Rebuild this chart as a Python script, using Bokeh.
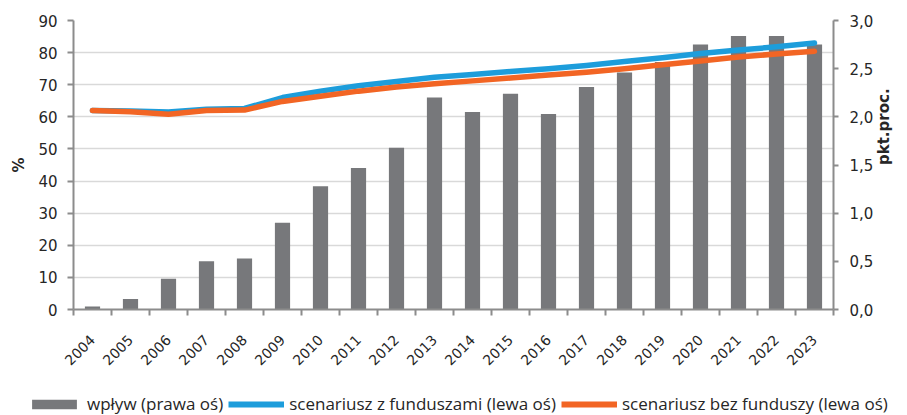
import math
from bokeh.plotting import figure
from bokeh.layouts import column
from bokeh.models import Range1d, LinearAxis, FixedTicker, Legend, LegendItem, ColumnDataSource
from bokeh.embed import file_html
from bokeh.resources import INLINE

years = ["2004", "2005", "2006", "2007", "2008", "2009", "2010", "2011", "2012", "2013",
         "2014", "2015", "2016", "2017", "2018", "2019", "2020", "2021", "2022", "2023"]
impact = [0.03, 0.11, 0.32, 0.50, 0.53, 0.90, 1.28, 1.47, 1.68, 2.20,
          2.05, 2.24, 2.03, 2.31, 2.46, 2.57, 2.75, 2.84, 2.84, 2.75]
with_funds = [62.0, 61.8, 61.5, 62.4, 62.6, 66.0, 68.0, 69.7, 71.0, 72.3,
              73.2, 74.1, 75.0, 76.0, 77.2, 78.4, 79.7, 80.8, 81.8, 83.0]
without_funds = [62.0, 61.6, 60.8, 62.0, 62.1, 64.8, 66.4, 68.0, 69.3, 70.3,
                 71.2, 72.1, 73.0, 73.9, 75.0, 76.2, 77.4, 78.6, 79.6, 80.4]
left_ticks = [0, 10, 20, 30, 40, 50, 60, 70, 80, 90]
right_ticks = [0.0, 0.5, 1.0, 1.5, 2.0, 2.5, 3.0]
right_labels = ["0,0", "0,5", "1,0", "1,5", "2,0", "2,5", "3,0"]
series_names = ["wpływ (prawa oś)", "scenariusz z funduszami (lewa oś)", "scenariusz bez funduszy (lewa oś)"]

xpos = [i + 0.5 for i in range(len(years))]
src = ColumnDataSource(dict(x=xpos, impact=impact, wf=with_funds, wo=without_funds))

GREY = "#77787b"
BLUE = "#1d9ddb"
ORANGE = "#f26524"
AXIS = "#8c8c8c"
TXT = "#262626"
FONT = "DejaVu Sans"

p = figure(width=907, height=385, x_range=Range1d(0, len(years)), y_range=Range1d(0, 90),
           output_backend="svg", toolbar_location=None,
           min_border_left=73, min_border_right=74, min_border_top=20, min_border_bottom=76)
p.extra_y_ranges = {"right": Range1d(0, 3)}
p.outline_line_color = None
p.background_fill_color = "white"
p.frame_align = False

bars = p.vbar(x="x", top="impact", width=0.4, y_range_name="right", source=src,
              fill_color=GREY, line_color=None)
l1 = p.line(x="x", y="wf", source=src, line_color=BLUE, line_width=5.5, line_join="round", line_cap="round")
l2 = p.line(x="x", y="wo", source=src, line_color=ORANGE, line_width=5.5, line_join="round", line_cap="round")

# grid
p.xgrid.grid_line_color = None
p.ygrid.ticker = FixedTicker(ticks=left_ticks)
p.ygrid.grid_line_color = "#d9d9d9"
p.ygrid.grid_line_width = 1.5

# left axis
ya = p.yaxis[0]
ya.ticker = FixedTicker(ticks=left_ticks)
ya.axis_line_color = AXIS
ya.axis_line_width = 2
ya.major_tick_line_color = AXIS
ya.major_tick_line_width = 2
ya.major_tick_out = 6
ya.major_tick_in = 0
ya.minor_tick_line_color = None
ya.major_label_standoff = 10
ya.major_label_text_font = FONT
ya.major_label_text_font_size = "15px"
ya.major_label_text_color = TXT
ya.axis_label = "%"
ya.axis_label_text_font = FONT
ya.axis_label_text_font_size = "15px"
ya.axis_label_text_font_style = "bold"
ya.axis_label_text_color = TXT
ya.axis_label_standoff = 7

# right axis
ra = LinearAxis(y_range_name="right", ticker=FixedTicker(ticks=right_ticks),
                major_label_overrides={t: s for t, s in zip(right_ticks, right_labels)})
ra.axis_line_color = AXIS
ra.axis_line_width = 2
ra.major_tick_line_color = AXIS
ra.major_tick_line_width = 2
ra.major_tick_out = 5
ra.major_tick_in = 0
ra.minor_tick_line_color = None
ra.major_label_standoff = 11
ra.major_label_text_font = FONT
ra.major_label_text_font_size = "15px"
ra.major_label_text_color = TXT
ra.axis_label = "pkt.proc."
ra.axis_label_text_font = FONT
ra.axis_label_text_font_size = "15px"
ra.axis_label_text_font_style = "bold"
ra.axis_label_text_color = TXT
ra.axis_label_standoff = 8
ra.axis_label_orientation = math.pi / 2
p.add_layout(ra, "right")

# x axis
xa = p.xaxis[0]
xa.ticker = FixedTicker(ticks=xpos, minor_ticks=list(range(len(years) + 1)))
xa.major_label_overrides = {x: y for x, y in zip(xpos, years)}
xa.major_label_orientation = math.pi / 4
xa.axis_line_color = AXIS
xa.axis_line_width = 2
xa.major_tick_line_color = None
xa.minor_tick_line_color = AXIS
xa.minor_tick_line_width = 2
xa.minor_tick_out = 6
xa.minor_tick_in = 0
xa.major_label_standoff = 22
xa.major_label_text_font = FONT
xa.major_label_text_font_size = "14px"
xa.major_label_text_color = TXT

# legend strip: same data drawn off-view so only the legend shows
q = figure(width=907, height=30, x_range=Range1d(-200, -199), y_range=Range1d(0, 1),
           output_backend="svg", toolbar_location=None, x_axis_type=None, y_axis_type=None,
           min_border_left=0, min_border_right=0, min_border_top=0, min_border_bottom=0)
q.outline_line_color = None
q.grid.grid_line_color = None
q.frame_align = False
qb = q.vbar(x="x", top="impact", width=0.4, source=src, fill_color=GREY, line_color=None)
q1 = q.line(x="x", y="wf", source=src, line_color=BLUE, line_width=6)
q2 = q.line(x="x", y="wo", source=src, line_color=ORANGE, line_width=6)
legend = Legend(items=[LegendItem(label=series_names[0], renderers=[qb]),
                       LegendItem(label=series_names[1], renderers=[q1]),
                       LegendItem(label=series_names[2], renderers=[q2])],
                location=(26, 0), orientation="horizontal",
                glyph_width=56, glyph_height=12, label_standoff=5, spacing=5,
                padding=0, margin=0, border_line_color=None, background_fill_alpha=0,
                label_text_font="Open Sans", label_text_font_size="17px", label_text_color=TXT)
q.add_layout(legend, "center")

open("out.html", "w").write(file_html(column(p, q, spacing=0), INLINE))
